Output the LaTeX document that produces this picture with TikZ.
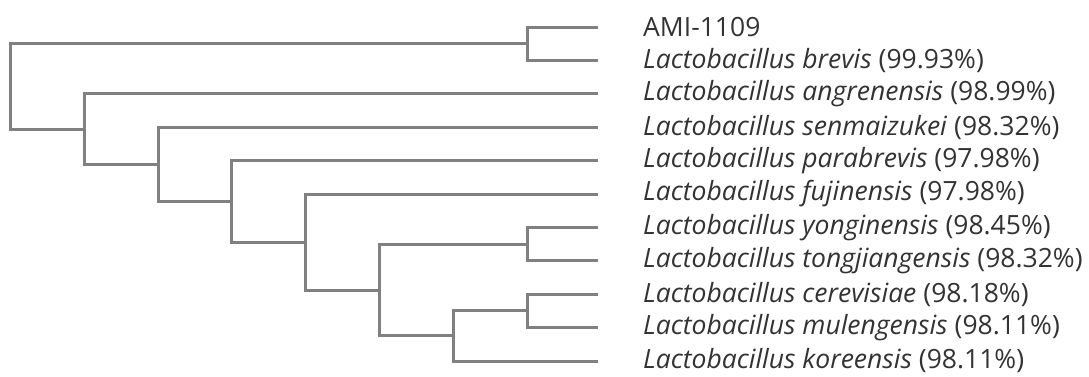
\documentclass[tikz,border=0pt]{standalone}
\usepackage{fontspec}
\setmainfont{Open Sans}
\usetikzlibrary{positioning}

\begin{document}
\begin{tikzpicture}[x=1pt,y=-1pt,
branch/.style={draw=black!50, line width=3pt, to path={|- (\tikztotarget)}},
taxon/.style={anchor=west, inner sep=0pt, text=black!80, font=\fontsize{26.5}{30}\selectfont},
]
\useasboundingbox (0,0) rectangle (1089,376);

% leaf tips
\foreach \i in {0,...,10}
  \coordinate (l\i) at (598,27+33.4*\i);

% inner nodes of the tree
\coordinate (root) at (10,86);
\coordinate (n1) at (527,43.7);
\coordinate (nA) at (84,129);
\coordinate (nB) at (158,164.25);
\coordinate (nC) at (231,201.3);
\coordinate (nD) at (305,242);
\coordinate (nE) at (379,290);
\coordinate (nF) at (527,244.1);
\coordinate (nG) at (453,335.95);
\coordinate (nH) at (527,310.9);

\node[taxon, right=45pt of l0] (t0) {AMI-1109};
\foreach \sp/\pc [count=\i] in {brevis/99.93, angrenensis/98.99, senmaizukei/98.32,
    parabrevis/97.98, fujinensis/97.98, yonginensis/98.45, tongjiangensis/98.32,
    cerevisiae/98.18, mulengensis/98.11, koreensis/98.11}
  \node[taxon, right=45pt of l\i] (t\i) {\textit{Lactobacillus \sp} (\pc\%)};

\path
(root) edge[branch] (n1)
(root) edge[branch] (nA)
(n1) edge[branch] (l0)
(n1) edge[branch] (l1)
(nA) edge[branch] (l2)
(nA) edge[branch] (nB)
(nB) edge[branch] (l3)
(nB) edge[branch] (nC)
(nC) edge[branch] (l4)
(nC) edge[branch] (nD)
(nD) edge[branch] (l5)
(nD) edge[branch] (nE)
(nE) edge[branch] (nF)
(nE) edge[branch] (nG)
(nF) edge[branch] (l6)
(nF) edge[branch] (l7)
(nG) edge[branch] (nH)
(nG) edge[branch] (l10)
(nH) edge[branch] (l8)
(nH) edge[branch] (l9)
;
\end{tikzpicture}
\end{document}
